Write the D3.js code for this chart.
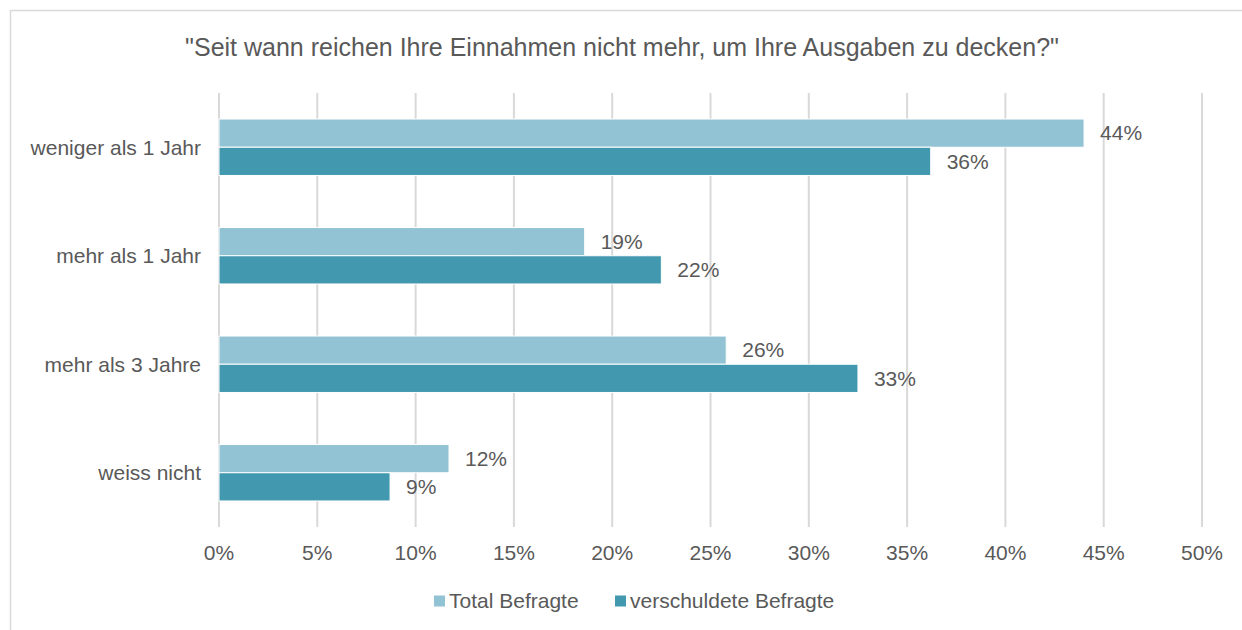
<!DOCTYPE html>
<html>
<head>
<meta charset="utf-8">
<script src="https://cdn.jsdelivr.net/npm/d3@7"></script>
<style>
  body { margin: 0; background: #fff; }
  svg { font-family: "Liberation Sans", Arial, sans-serif; }
</style>
</head>
<body>
<svg id="chart" width="1242" height="630"></svg>
<script>
// Data
const categories = ["weniger als 1 Jahr", "mehr als 1 Jahr", "mehr als 3 Jahre", "weiss nicht"];
const seriesNames = ["Total Befragte", "verschuldete Befragte"];
const totalValues = [44.0, 18.6, 25.8, 11.7];
const debtValues = [36.2, 22.5, 32.5, 8.7];
const totalLabels = ["44%", "19%", "26%", "12%"];
const debtLabels = ["36%", "22%", "33%", "9%"];
const xTicks = [0, 5, 10, 15, 20, 25, 30, 35, 40, 45, 50];

const colors = ["#92C3D4", "#4198AF"];
const textColor = "#595959";

const svg = d3.select("#chart");

// Outer frame
svg.append("rect")
  .attr("x", 10.5).attr("y", 10.5)
  .attr("width", 1260).attr("height", 640)
  .attr("fill", "none").attr("stroke", "#d9d9d9").attr("stroke-width", 1.5);

// Title
svg.append("text")
  .attr("x", 622).attr("y", 56)
  .attr("text-anchor", "middle")
  .style("font-size", "25px")
  .style("fill", textColor)
  .text("\"Seit wann reichen Ihre Einnahmen nicht mehr, um Ihre Ausgaben zu decken?\"");

const plot = { left: 219, right: 1202, top: 93, bottom: 527 };

const x = d3.scaleLinear().domain([0, 50]).range([plot.left, plot.right]);
const y = d3.scaleBand().domain(categories).range([plot.top, plot.bottom]).paddingInner(0.48).paddingOuter(0.24);
const sub = d3.scaleBand().domain(seriesNames).range([0, y.bandwidth()]);

// Gridlines
svg.append("g").selectAll("line")
  .data(xTicks)
  .enter().append("line")
  .attr("x1", d => x(d)).attr("x2", d => x(d))
  .attr("y1", plot.top).attr("y2", plot.bottom)
  .attr("stroke", "#d9d9d9").attr("stroke-width", 2);

// Bars
const rows = categories.map((c, i) => ({
  cat: c,
  vals: [
    { s: seriesNames[0], v: totalValues[i], label: totalLabels[i], color: colors[0] },
    { s: seriesNames[1], v: debtValues[i], label: debtLabels[i], color: colors[1] }
  ]
}));

const groups = svg.append("g").selectAll("g")
  .data(rows)
  .enter().append("g")
  .attr("transform", d => `translate(0,${y(d.cat)})`);

groups.selectAll("rect")
  .data(d => d.vals)
  .enter().append("rect")
  .attr("x", x(0))
  .attr("y", d => sub(d.s))
  .attr("width", d => x(d.v) - x(0))
  .attr("height", sub.bandwidth())
  .attr("fill", d => d.color)
  .attr("stroke", "#fff")
  .attr("stroke-width", 1);

groups.selectAll("text")
  .data(d => d.vals)
  .enter().append("text")
  .attr("x", d => x(d.v) + 16)
  .attr("y", d => sub(d.s) + sub.bandwidth() / 2)
  .attr("dy", "0.35em")
  .style("font-size", "21px")
  .style("fill", textColor)
  .text(d => d.label);

// Category labels
svg.append("g").selectAll("text")
  .data(categories)
  .enter().append("text")
  .attr("x", 201)
  .attr("y", d => y(d) + y.bandwidth() / 2)
  .attr("dy", "0.35em")
  .attr("text-anchor", "end")
  .style("font-size", "21px")
  .style("fill", textColor)
  .text(d => d);

// X tick labels
svg.append("g").selectAll("text")
  .data(xTicks)
  .enter().append("text")
  .attr("x", d => x(d))
  .attr("y", 553)
  .attr("dy", "0.35em")
  .attr("text-anchor", "middle")
  .style("font-size", "21px")
  .style("fill", textColor)
  .text(d => d + "%");

// Legend
const legendItems = [
  { name: seriesNames[0], color: colors[0], x: 434 },
  { name: seriesNames[1], color: colors[1], x: 615 }
];
const legend = svg.append("g").selectAll("g")
  .data(legendItems)
  .enter().append("g")
  .attr("transform", d => `translate(${d.x},601)`);
legend.append("rect")
  .attr("x", 0).attr("y", -5.5)
  .attr("width", 11).attr("height", 11)
  .attr("fill", d => d.color);
legend.append("text")
  .attr("x", 15).attr("y", 0)
  .attr("dy", "0.35em")
  .style("font-size", "21px")
  .style("fill", textColor)
  .text(d => d.name);
</script>
</body>
</html>
